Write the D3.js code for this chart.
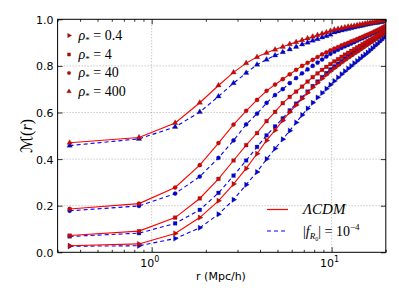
<!DOCTYPE html>
<html>
<head>
<meta charset="utf-8">
<script src="https://cdn.jsdelivr.net/npm/d3@7"></script>
<style>
  body { margin: 0; background: #fff; }
  svg { display: block; }
  .tick text { font-family: "DejaVu Sans", sans-serif; font-size: 11px; fill: #000; }
  .math { font-family: "Liberation Serif", "DejaVu Serif", serif; fill: #000; }
</style>
</head>
<body>
<div id="vis"></div>
<script>
const FRAME_WIDTH = 399;
const FRAME_HEIGHT = 299;

// radii (Mpc/h) of the sampled shells
const radii = [0.35, 0.85, 1.35, 1.85, 2.35, 2.85, 3.35, 3.85, 4.35, 4.85,
  5.35, 5.85, 6.35, 6.85, 7.35, 7.85, 8.35, 8.85, 9.35, 9.85,
  10.35, 10.85, 11.35, 11.85, 12.35, 12.85, 13.35, 13.85, 14.35, 14.85,
  15.35, 15.85, 16.35, 16.85, 17.35, 17.85, 18.35, 18.85, 19.35, 19.85];

// LCDM
const lcdm_04 = [0.028, 0.036, 0.081, 0.149, 0.221, 0.293, 0.360, 0.423, 0.480, 0.524,
  0.566, 0.602, 0.632, 0.660, 0.685, 0.708, 0.728, 0.746, 0.762, 0.777,
  0.790, 0.802, 0.813, 0.824, 0.834, 0.843, 0.852, 0.860, 0.868, 0.876,
  0.884, 0.891, 0.898, 0.905, 0.912, 0.918, 0.924, 0.930, 0.936, 0.942];
const lcdm_4 = [0.072, 0.091, 0.149, 0.231, 0.315, 0.394, 0.460, 0.512, 0.563, 0.603,
  0.640, 0.667, 0.690, 0.711, 0.733, 0.752, 0.768, 0.783, 0.796, 0.808,
  0.819, 0.829, 0.839, 0.848, 0.856, 0.864, 0.872, 0.879, 0.886, 0.893,
  0.900, 0.906, 0.912, 0.918, 0.924, 0.930, 0.936, 0.942, 0.948, 0.955];
const lcdm_40 = [0.186, 0.209, 0.278, 0.374, 0.469, 0.548, 0.607, 0.654, 0.693, 0.720,
  0.743, 0.764, 0.783, 0.800, 0.813, 0.826, 0.838, 0.849, 0.858, 0.867,
  0.874, 0.881, 0.888, 0.894, 0.899, 0.905, 0.910, 0.915, 0.920, 0.925,
  0.930, 0.934, 0.939, 0.943, 0.948, 0.952, 0.957, 0.961, 0.966, 0.971];
const lcdm_400 = [0.470, 0.493, 0.555, 0.642, 0.716, 0.772, 0.812, 0.838, 0.856, 0.870,
  0.882, 0.893, 0.902, 0.910, 0.918, 0.925, 0.932, 0.938, 0.944, 0.950,
  0.956, 0.959, 0.962, 0.965, 0.968, 0.970, 0.972, 0.975, 0.977, 0.979,
  0.981, 0.983, 0.985, 0.987, 0.988, 0.990, 0.991, 0.993, 0.994, 0.996];

// |f_R0| = 1e-4
const fr_04 = [0.026, 0.028, 0.059, 0.105, 0.163, 0.226, 0.290, 0.345, 0.400, 0.445,
  0.485, 0.522, 0.557, 0.589, 0.617, 0.642, 0.664, 0.684, 0.702, 0.719,
  0.735, 0.750, 0.764, 0.777, 0.789, 0.800, 0.811, 0.821, 0.831, 0.840,
  0.849, 0.858, 0.867, 0.876, 0.885, 0.893, 0.902, 0.910, 0.919, 0.927];
const fr_4 = [0.068, 0.082, 0.124, 0.182, 0.255, 0.329, 0.394, 0.452, 0.502, 0.540,
  0.575, 0.609, 0.638, 0.664, 0.690, 0.713, 0.733, 0.752, 0.769, 0.785,
  0.798, 0.810, 0.821, 0.832, 0.842, 0.851, 0.860, 0.868, 0.876, 0.884,
  0.891, 0.898, 0.905, 0.912, 0.918, 0.924, 0.931, 0.937, 0.943, 0.949];
const fr_40 = [0.178, 0.199, 0.252, 0.325, 0.405, 0.480, 0.549, 0.595, 0.641, 0.675,
  0.700, 0.726, 0.748, 0.768, 0.785, 0.800, 0.814, 0.827, 0.840, 0.852,
  0.861, 0.869, 0.877, 0.884, 0.890, 0.896, 0.902, 0.908, 0.914, 0.919,
  0.924, 0.929, 0.934, 0.939, 0.943, 0.948, 0.952, 0.957, 0.961, 0.965];
const fr_400 = [0.458, 0.487, 0.538, 0.602, 0.669, 0.726, 0.770, 0.805, 0.827, 0.845,
  0.859, 0.871, 0.882, 0.892, 0.900, 0.908, 0.915, 0.922, 0.928, 0.934,
  0.944, 0.948, 0.952, 0.956, 0.959, 0.962, 0.965, 0.968, 0.971, 0.973,
  0.976, 0.978, 0.980, 0.982, 0.984, 0.985, 0.987, 0.988, 0.990, 0.991];

const rhoLabels = ['0.4', '4', '40', '400'];
const yTicks = [0, 0.2, 0.4, 0.6, 0.8, 1.0];
const xMajor = [1, 10];
const xMinor = [0.3, 0.4, 0.5, 0.6, 0.7, 0.8, 0.9, 2, 3, 4, 5, 6, 7, 8, 9, 20];

const MARGINS = {left: 57.6, right: 385.8, top: 19.3, bottom: 252.3};

const X_SCALE = d3.scaleLog().domain([0.3, 20]).range([MARGINS.left, MARGINS.right]);
const Y_SCALE = d3.scaleLinear().domain([0, 1]).range([MARGINS.bottom, MARGINS.top]);

const svg = d3.select('#vis').append('svg')
  .attr('width', FRAME_WIDTH)
  .attr('height', FRAME_HEIGHT);

svg.append('clipPath').attr('id', 'clip')
  .append('rect')
    .attr('x', MARGINS.left).attr('y', MARGINS.top)
    .attr('width', MARGINS.right - MARGINS.left)
    .attr('height', MARGINS.bottom - MARGINS.top);

// grid
const grid = svg.append('g').attr('stroke', '#8c8c8c').attr('stroke-width', 0.7)
  .attr('stroke-dasharray', '1,2');
grid.selectAll('.gy').data(yTicks.slice(1, -1)).enter().append('line')
  .attr('x1', MARGINS.left).attr('x2', MARGINS.right)
  .attr('y1', d => Y_SCALE(d)).attr('y2', d => Y_SCALE(d));
grid.selectAll('.gx').data(xMajor).enter().append('line')
  .attr('y1', MARGINS.top).attr('y2', MARGINS.bottom)
  .attr('x1', d => X_SCALE(d)).attr('x2', d => X_SCALE(d));

// marker shapes: right triangle, square, circle, up triangle
const shapes = [
  {path: d3.symbol().type(d3.symbolTriangle).size(13)(), rot: 90},
  {path: d3.symbol().type(d3.symbolSquare).size(14)(), rot: 0},
  {path: d3.symbol().type(d3.symbolCircle).size(14)(), rot: 0},
  {path: d3.symbol().type(d3.symbolTriangle).size(13)(), rot: 0}
];

const series = [
  {vals: fr_04, shape: 0, color: '#0000ff', dash: '4,3'},
  {vals: fr_4, shape: 1, color: '#0000ff', dash: '4,3'},
  {vals: fr_40, shape: 2, color: '#0000ff', dash: '4,3'},
  {vals: fr_400, shape: 3, color: '#0000ff', dash: '4,3'},
  {vals: lcdm_04, shape: 0, color: '#ff0000', dash: null},
  {vals: lcdm_4, shape: 1, color: '#ff0000', dash: null},
  {vals: lcdm_40, shape: 2, color: '#ff0000', dash: null},
  {vals: lcdm_400, shape: 3, color: '#ff0000', dash: null}
];

const line = d3.line().x((d, i) => X_SCALE(radii[i])).y(d => Y_SCALE(d));
const plot = svg.append('g').attr('clip-path', 'url(#clip)');

series.forEach(s => {
  plot.append('path')
    .attr('d', line(s.vals))
    .attr('fill', 'none')
    .attr('stroke', s.color)
    .attr('stroke-width', 1.1)
    .attr('stroke-dasharray', s.dash);
  plot.selectAll(null).data(s.vals).enter().append('path')
    .attr('d', shapes[s.shape].path)
    .attr('transform', (d, i) => 'translate(' + X_SCALE(radii[i]) + ',' + Y_SCALE(d) + ') rotate(' + shapes[s.shape].rot + ')')
    .attr('fill', s.color === '#ff0000' ? '#e00000' : '#0000e6')
    .attr('stroke', '#333')
    .attr('stroke-width', 0.3);
});

// frame
svg.append('rect')
  .attr('x', MARGINS.left).attr('y', MARGINS.top)
  .attr('width', MARGINS.right - MARGINS.left)
  .attr('height', MARGINS.bottom - MARGINS.top)
  .attr('fill', 'none').attr('stroke', '#000').attr('stroke-width', 1);

// axes (ticks inward)
const yLeft = svg.append('g').attr('transform', 'translate(' + MARGINS.left + ',0)')
  .call(d3.axisLeft(Y_SCALE).tickValues(yTicks).tickSize(-5).tickPadding(4).tickFormat(d3.format('.1f')));
svg.append('g').attr('transform', 'translate(' + MARGINS.right + ',0)')
  .call(d3.axisRight(Y_SCALE).tickValues(yTicks).tickSize(-5).tickFormat(''));
svg.append('g').attr('transform', 'translate(0,' + MARGINS.bottom + ')')
  .call(d3.axisBottom(X_SCALE).tickValues(xMajor).tickSize(-5).tickFormat(''));
svg.append('g').attr('transform', 'translate(0,' + MARGINS.bottom + ')')
  .call(d3.axisBottom(X_SCALE).tickValues(xMinor).tickSize(-2.5).tickFormat(''));
svg.append('g').attr('transform', 'translate(0,' + MARGINS.top + ')')
  .call(d3.axisTop(X_SCALE).tickValues(xMajor).tickSize(-5).tickFormat(''));
svg.append('g').attr('transform', 'translate(0,' + MARGINS.top + ')')
  .call(d3.axisTop(X_SCALE).tickValues(xMinor).tickSize(-2.5).tickFormat(''));
svg.selectAll('.domain').remove();
svg.selectAll('.tick line').attr('stroke', '#000').attr('stroke-width', 0.8);
yLeft.selectAll('.tick text').attr('dy', '0.36em');

// x tick labels 10^0, 10^1
xMajor.forEach(d => {
  const t = svg.append('text')
    .attr('x', X_SCALE(d) - 2)
    .attr('y', 267)
    .attr('text-anchor', 'middle')
    .attr('font-family', 'DejaVu Sans, sans-serif')
    .attr('font-size', 11);
  t.append('tspan').text('10');
  t.append('tspan').attr('dy', -5).attr('font-size', 8).text(String(Math.log10(d)));
});

// axis labels
svg.append('text')
  .attr('x', 221).attr('y', 280)
  .attr('text-anchor', 'middle')
  .attr('font-family', 'DejaVu Sans, sans-serif')
  .attr('font-size', 11)
  .text('r (Mpc/h)');

const yl = svg.append('text')
  .attr('class', 'math')
  .attr('transform', 'translate(32,136) rotate(-90)')
  .attr('text-anchor', 'middle')
  .attr('font-size', 16);
yl.append('tspan').attr('font-family', 'DejaVu Sans').attr('font-style', 'italic').text('ℳ');
yl.append('tspan').text('(');
yl.append('tspan').attr('font-style', 'italic').text('r');
yl.append('tspan').text(')');

// marker legend
rhoLabels.forEach((lab, i) => {
  const yy = [35.5, 54.5, 73, 91.5][i];
  svg.append('path')
    .attr('d', shapes[i].path)
    .attr('transform', 'translate(69,' + yy + ') rotate(' + shapes[i].rot + ') scale(0.85)')
    .attr('fill', '#c00000').attr('stroke', '#333').attr('stroke-width', 0.3);
  const t = svg.append('text').attr('class', 'math')
    .attr('x', 78.5).attr('y', yy + 4).attr('font-size', 14);
  t.append('tspan').attr('font-style', 'italic').text('ρ');
  t.append('tspan').attr('font-size', 9).attr('dy', 3).text('*');
  t.append('tspan').attr('dy', -3).text(' = ' + lab);
});

// line legend
svg.append('line').attr('x1', 267).attr('x2', 288).attr('y1', 209.5).attr('y2', 209.5)
  .attr('stroke', '#ff0000').attr('stroke-width', 1.2);
svg.append('line').attr('x1', 267).attr('x2', 288).attr('y1', 231).attr('y2', 231)
  .attr('stroke', '#0000ff').attr('stroke-width', 1.1).attr('stroke-dasharray', '4,3');

svg.append('text').attr('class', 'math')
  .attr('x', 303).attr('y', 214).attr('font-size', 15).attr('font-style', 'italic')
  .text('ΛCDM');

const fl = svg.append('text').attr('class', 'math')
  .attr('x', 303).attr('y', 235.5).attr('font-size', 14);
fl.append('tspan').text('|');
fl.append('tspan').attr('font-style', 'italic').text('f');
fl.append('tspan').attr('font-style', 'italic').attr('font-size', 9).attr('dy', 3).text('R');
fl.append('tspan').attr('font-size', 6).attr('dy', 2).text('0');
fl.append('tspan').attr('dy', -5).text('| = 10');
fl.append('tspan').attr('font-size', 9).attr('dy', -6).text('−4');
</script>
</body>
</html>
